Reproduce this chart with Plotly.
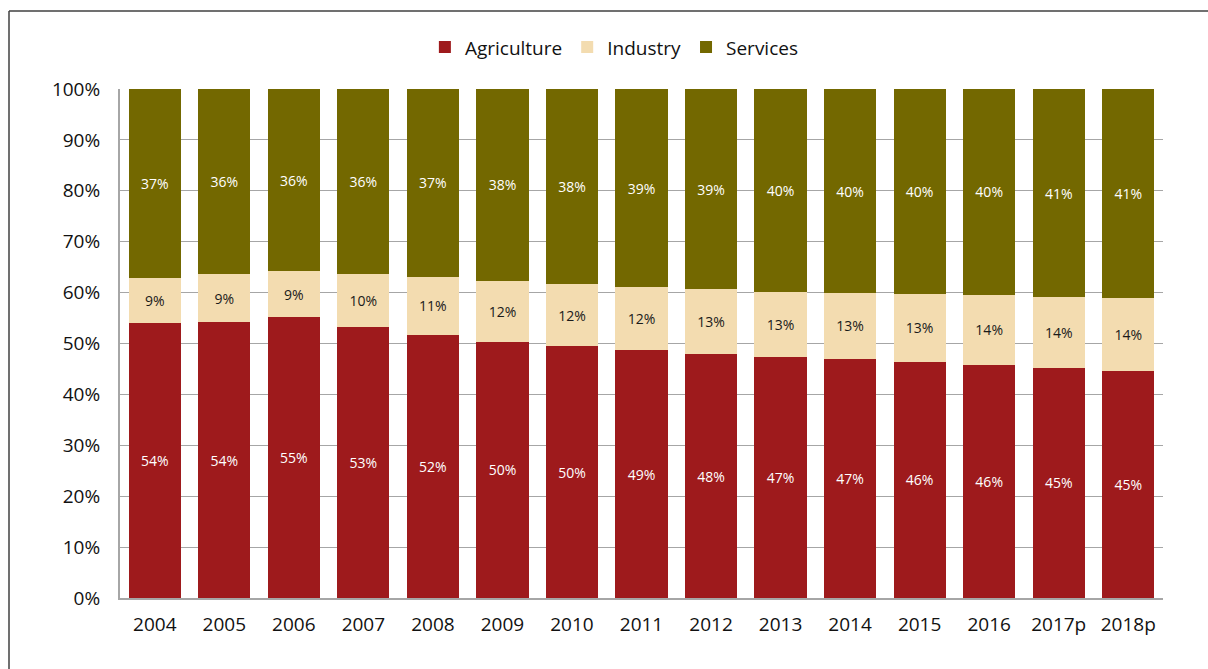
import plotly.graph_objects as go

years = ["2004", "2005", "2006", "2007", "2008", "2009", "2010", "2011",
         "2012", "2013", "2014", "2015", "2016", "2017p", "2018p"]
agriculture = [54.0, 54.2, 55.2, 53.2, 51.7, 50.3, 49.5, 48.7, 47.9, 47.3, 47.0, 46.4, 45.8, 45.2, 44.6]
industry = [8.9, 9.4, 9.0, 10.4, 11.4, 12.0, 12.1, 12.4, 12.8, 12.8, 12.9, 13.3, 13.8, 13.9, 14.3]
services = [37.1, 36.4, 35.8, 36.4, 36.9, 37.7, 38.4, 38.9, 39.3, 39.9, 40.1, 40.3, 40.4, 40.9, 41.1]

FONT = "Open Sans"
series = [
    ("Agriculture", agriculture, "#9E1A1C", "white"),
    ("Industry", industry, "#F3DCB0", "#1a1a1a"),
    ("Services", services, "#736800", "white"),
]

fig = go.Figure()
for name, vals, color, tcolor in series:
    fig.add_trace(go.Bar(
        name=name, x=years, y=vals,
        marker=dict(color=color, line=dict(width=0)),
        text=[f"{round(v):.0f}%" for v in vals],
        textposition="inside", insidetextanchor="middle",
        textfont=dict(family=FONT, size=14, color=tcolor),
        constraintext="none",
        hoverinfo="skip",
    ))

fig.update_layout(
    barmode="stack", bargap=0.25,
    width=1208, height=669,
    margin=dict(l=120, r=45, t=89, b=71),
    paper_bgcolor="white", plot_bgcolor="white",
    font=dict(family=FONT, size=19, color="#111111"),
    legend=dict(orientation="h", x=0.474, xanchor="center", y=1.082, yanchor="middle",
                font=dict(family=FONT, size=19), itemwidth=30, tracegroupgap=0,
                traceorder="normal"),
    showlegend=True,
    hovermode=False,
)
fig.update_yaxes(range=[0, 100], dtick=10, ticksuffix="%", showgrid=True,
                 gridcolor="#A6A6A6", gridwidth=1.2, showline=True, linecolor="#A6A6A6",
                 linewidth=2, zeroline=False, ticks="", ticklabelstandoff=14,
                 tickfont=dict(family=FONT, size=19))
fig.update_xaxes(showline=True, linecolor="#A6A6A6", linewidth=2, ticks="",
                 ticklabelstandoff=8, tickfont=dict(family=FONT, size=19),
                 range=[-0.5, 14.5])

# outer frame of the figure (left and top edges visible)
fx0 = (9 - 120) / 1043
fy1 = 1 + (89 - 11) / 509
frame = dict(color="#404040", width=1.5)
fig.add_shape(type="line", xref="paper", yref="paper", x0=fx0, x1=fx0, y0=-0.3, y1=fy1, line=frame)
fig.add_shape(type="line", xref="paper", yref="paper", x0=fx0, x1=1.3, y0=fy1, y1=fy1, line=frame)

fig.write_html("out.html",
               config={"displayModeBar": False},
               post_script="document.body.style.margin='0';document.body.style.overflow='hidden';")
